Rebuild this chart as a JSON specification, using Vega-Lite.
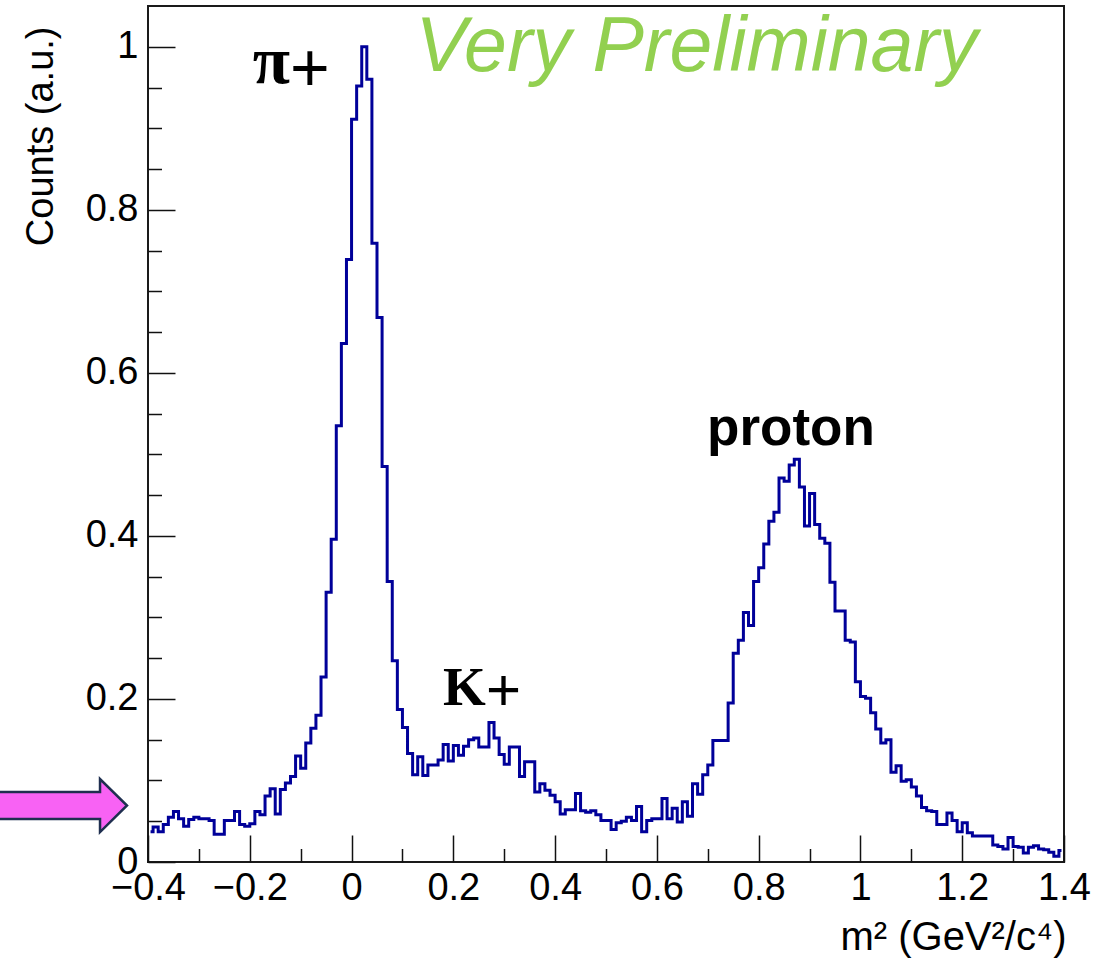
{
  "$schema": "https://vega.github.io/schema/vega-lite/v6.json",
  "width": 916,
  "height": 856,
  "autosize": {"type": "none"},
  "padding": {"left": 148, "top": 6, "right": 50, "bottom": 96},
  "background": "white",
  "config": {"view": {"stroke": "#1a1a1a", "strokeWidth": 2}, "font": "Liberation Sans"},
  "layer": [
    {
      "data": {"values": [
        {"m2": -0.395, "counts": 0.037}, {"m2": -0.385, "counts": 0.043}, {"m2": -0.375, "counts": 0.037}, {"m2": -0.365, "counts": 0.046}, {"m2": -0.355, "counts": 0.055},
        {"m2": -0.345, "counts": 0.062}, {"m2": -0.335, "counts": 0.053}, {"m2": -0.325, "counts": 0.044}, {"m2": -0.315, "counts": 0.052}, {"m2": -0.305, "counts": 0.055},
        {"m2": -0.295, "counts": 0.053}, {"m2": -0.285, "counts": 0.053}, {"m2": -0.275, "counts": 0.051}, {"m2": -0.265, "counts": 0.034}, {"m2": -0.255, "counts": 0.034},
        {"m2": -0.245, "counts": 0.051}, {"m2": -0.235, "counts": 0.051}, {"m2": -0.225, "counts": 0.062}, {"m2": -0.215, "counts": 0.046}, {"m2": -0.205, "counts": 0.044},
        {"m2": -0.195, "counts": 0.047}, {"m2": -0.185, "counts": 0.062}, {"m2": -0.175, "counts": 0.058}, {"m2": -0.165, "counts": 0.081}, {"m2": -0.155, "counts": 0.090},
        {"m2": -0.145, "counts": 0.059}, {"m2": -0.135, "counts": 0.089}, {"m2": -0.125, "counts": 0.097}, {"m2": -0.115, "counts": 0.105}, {"m2": -0.105, "counts": 0.130},
        {"m2": -0.095, "counts": 0.115}, {"m2": -0.085, "counts": 0.146}, {"m2": -0.075, "counts": 0.164}, {"m2": -0.065, "counts": 0.180}, {"m2": -0.055, "counts": 0.227},
        {"m2": -0.045, "counts": 0.331}, {"m2": -0.035, "counts": 0.396}, {"m2": -0.025, "counts": 0.535}, {"m2": -0.015, "counts": 0.636}, {"m2": -0.005, "counts": 0.739},
        {"m2": 0.005, "counts": 0.911}, {"m2": 0.015, "counts": 0.952}, {"m2": 0.025, "counts": 1.000}, {"m2": 0.035, "counts": 0.960}, {"m2": 0.045, "counts": 0.759},
        {"m2": 0.055, "counts": 0.668}, {"m2": 0.065, "counts": 0.485}, {"m2": 0.075, "counts": 0.344}, {"m2": 0.085, "counts": 0.247}, {"m2": 0.095, "counts": 0.187},
        {"m2": 0.105, "counts": 0.165}, {"m2": 0.115, "counts": 0.133}, {"m2": 0.125, "counts": 0.107}, {"m2": 0.135, "counts": 0.129}, {"m2": 0.145, "counts": 0.106},
        {"m2": 0.155, "counts": 0.119}, {"m2": 0.165, "counts": 0.119}, {"m2": 0.175, "counts": 0.125}, {"m2": 0.185, "counts": 0.144}, {"m2": 0.195, "counts": 0.124},
        {"m2": 0.205, "counts": 0.143}, {"m2": 0.215, "counts": 0.131}, {"m2": 0.225, "counts": 0.142}, {"m2": 0.235, "counts": 0.150}, {"m2": 0.245, "counts": 0.152},
        {"m2": 0.255, "counts": 0.141}, {"m2": 0.265, "counts": 0.141}, {"m2": 0.275, "counts": 0.171}, {"m2": 0.285, "counts": 0.152}, {"m2": 0.295, "counts": 0.132},
        {"m2": 0.305, "counts": 0.120}, {"m2": 0.315, "counts": 0.141}, {"m2": 0.325, "counts": 0.141}, {"m2": 0.335, "counts": 0.105}, {"m2": 0.345, "counts": 0.123},
        {"m2": 0.355, "counts": 0.123}, {"m2": 0.365, "counts": 0.086}, {"m2": 0.375, "counts": 0.096}, {"m2": 0.385, "counts": 0.088}, {"m2": 0.395, "counts": 0.082},
        {"m2": 0.405, "counts": 0.074}, {"m2": 0.415, "counts": 0.059}, {"m2": 0.425, "counts": 0.064}, {"m2": 0.435, "counts": 0.064}, {"m2": 0.445, "counts": 0.084},
        {"m2": 0.455, "counts": 0.063}, {"m2": 0.465, "counts": 0.061}, {"m2": 0.475, "counts": 0.063}, {"m2": 0.485, "counts": 0.058}, {"m2": 0.495, "counts": 0.051},
        {"m2": 0.505, "counts": 0.051}, {"m2": 0.515, "counts": 0.040}, {"m2": 0.525, "counts": 0.048}, {"m2": 0.535, "counts": 0.050}, {"m2": 0.545, "counts": 0.055},
        {"m2": 0.555, "counts": 0.051}, {"m2": 0.565, "counts": 0.068}, {"m2": 0.575, "counts": 0.037}, {"m2": 0.585, "counts": 0.051}, {"m2": 0.595, "counts": 0.053},
        {"m2": 0.605, "counts": 0.053}, {"m2": 0.615, "counts": 0.078}, {"m2": 0.625, "counts": 0.053}, {"m2": 0.635, "counts": 0.066}, {"m2": 0.645, "counts": 0.049},
        {"m2": 0.655, "counts": 0.074}, {"m2": 0.665, "counts": 0.056}, {"m2": 0.675, "counts": 0.096}, {"m2": 0.685, "counts": 0.083}, {"m2": 0.695, "counts": 0.107},
        {"m2": 0.705, "counts": 0.119}, {"m2": 0.715, "counts": 0.149}, {"m2": 0.725, "counts": 0.149}, {"m2": 0.735, "counts": 0.149}, {"m2": 0.745, "counts": 0.195},
        {"m2": 0.755, "counts": 0.256}, {"m2": 0.765, "counts": 0.272}, {"m2": 0.775, "counts": 0.306}, {"m2": 0.785, "counts": 0.290}, {"m2": 0.795, "counts": 0.344},
        {"m2": 0.805, "counts": 0.361}, {"m2": 0.815, "counts": 0.390}, {"m2": 0.825, "counts": 0.418}, {"m2": 0.835, "counts": 0.429}, {"m2": 0.845, "counts": 0.471},
        {"m2": 0.855, "counts": 0.467}, {"m2": 0.865, "counts": 0.487}, {"m2": 0.875, "counts": 0.494}, {"m2": 0.885, "counts": 0.460}, {"m2": 0.895, "counts": 0.412},
        {"m2": 0.905, "counts": 0.452}, {"m2": 0.915, "counts": 0.414}, {"m2": 0.925, "counts": 0.397}, {"m2": 0.935, "counts": 0.391}, {"m2": 0.945, "counts": 0.343},
        {"m2": 0.955, "counts": 0.308}, {"m2": 0.965, "counts": 0.308}, {"m2": 0.975, "counts": 0.272}, {"m2": 0.985, "counts": 0.270}, {"m2": 0.995, "counts": 0.221},
        {"m2": 1.005, "counts": 0.203}, {"m2": 1.015, "counts": 0.201}, {"m2": 1.025, "counts": 0.183}, {"m2": 1.035, "counts": 0.163}, {"m2": 1.045, "counts": 0.146},
        {"m2": 1.055, "counts": 0.150}, {"m2": 1.065, "counts": 0.110}, {"m2": 1.075, "counts": 0.118}, {"m2": 1.085, "counts": 0.099}, {"m2": 1.095, "counts": 0.101},
        {"m2": 1.105, "counts": 0.092}, {"m2": 1.115, "counts": 0.081}, {"m2": 1.125, "counts": 0.067}, {"m2": 1.135, "counts": 0.063}, {"m2": 1.145, "counts": 0.062},
        {"m2": 1.155, "counts": 0.046}, {"m2": 1.165, "counts": 0.046}, {"m2": 1.175, "counts": 0.060}, {"m2": 1.185, "counts": 0.051}, {"m2": 1.195, "counts": 0.037},
        {"m2": 1.205, "counts": 0.048}, {"m2": 1.215, "counts": 0.036}, {"m2": 1.225, "counts": 0.032}, {"m2": 1.235, "counts": 0.032}, {"m2": 1.245, "counts": 0.032},
        {"m2": 1.255, "counts": 0.032}, {"m2": 1.265, "counts": 0.021}, {"m2": 1.275, "counts": 0.019}, {"m2": 1.285, "counts": 0.016}, {"m2": 1.295, "counts": 0.030},
        {"m2": 1.305, "counts": 0.019}, {"m2": 1.315, "counts": 0.018}, {"m2": 1.325, "counts": 0.011}, {"m2": 1.335, "counts": 0.018}, {"m2": 1.345, "counts": 0.020},
        {"m2": 1.355, "counts": 0.016}, {"m2": 1.365, "counts": 0.015}, {"m2": 1.375, "counts": 0.012}, {"m2": 1.385, "counts": 0.007}, {"m2": 1.395, "counts": 0.014}
      ]},
      "mark": {"type": "line", "interpolate": "step", "color": "#000099", "strokeWidth": 3},
      "encoding": {
        "x": {
          "field": "m2", "type": "quantitative",
          "scale": {"domain": [-0.4, 1.4], "nice": false, "zero": false},
          "axis": {
            "title": "m² (GeV²/c⁴)",
            "values": [-0.4,-0.35,-0.3,-0.25,-0.2,-0.15,-0.1,-0.05,0,0.05,0.1,0.15,0.2,0.25,0.3,0.35,0.4,0.45,0.5,0.55,0.6,0.65,0.7,0.75,0.8,0.85,0.9,0.95,1,1.05,1.1,1.15,1.2,1.25,1.3,1.35,1.4],
            "format": "~g",
            "labelExpr": "abs(datum.value*5 - round(datum.value*5)) < 0.001 ? datum.label : ''",
            "domain": false,
            "grid": false,
            "tickColor": "#111111",
            "tickWidth": 1.5,
            "tickSize": {"condition": {"test": "abs(datum.value*5 - round(datum.value*5)) < 0.001", "value": -27}, "value": -13.5},
            "labelPadding": 34,
            "labelFont": "Liberation Sans",
            "labelFontSize": 38,
            "labelColor": "#000000",
            "labelOverlap": false,
            "labelFlush": false,
            "labelBound": false,
            "titleFont": "Liberation Sans",
            "titleFontSize": 40,
            "titleFontWeight": "normal",
            "titleColor": "#000000",
            "titleX": 918,
            "titleY": 87,
            "titleAlign": "right",
            "titleBaseline": "alphabetic"
          }
        },
        "y": {
          "field": "counts", "type": "quantitative",
          "scale": {"domain": [0, 1.05], "nice": false, "zero": true},
          "axis": {
            "title": "Counts (a.u.)",
            "values": [0,0.05,0.1,0.15,0.2,0.25,0.3,0.35,0.4,0.45,0.5,0.55,0.6,0.65,0.7,0.75,0.8,0.85,0.9,0.95,1],
            "format": "~g",
            "labelExpr": "abs(datum.value*5 - round(datum.value*5)) < 0.001 ? datum.label : ''",
            "domain": false,
            "grid": false,
            "tickColor": "#111111",
            "tickWidth": 1.5,
            "tickSize": {"condition": {"test": "abs(datum.value*5 - round(datum.value*5)) < 0.001", "value": -27}, "value": -13.5},
            "labelPadding": 37,
            "labelFont": "Liberation Sans",
            "labelFontSize": 38,
            "labelColor": "#000000",
            "labelOverlap": false,
            "labelFlush": false,
            "labelBound": false,
            "titleFont": "Liberation Sans",
            "titleFontSize": 38,
            "titleFontWeight": "normal",
            "titleColor": "#000000",
            "titleAngle": -90,
            "titleX": -96,
            "titleY": 20,
            "titleAlign": "right",
            "titleBaseline": "alphabetic"
          }
        }
      }
    },
    {
      "data": {"values": [{}]},
      "mark": {"type": "text", "text": "π", "font": "Liberation Serif", "fontWeight": "bold", "fontSize": 68, "align": "right", "baseline": "alphabetic", "color": "#000000"},
      "encoding": {"x": {"datum": -0.121}, "y": {"datum": 0.955}}
    },
    {
      "data": {"values": [{}]},
      "mark": {"type": "text", "text": "+", "font": "Liberation Sans", "fontWeight": "normal", "fontSize": 68, "align": "left", "baseline": "alphabetic", "dy": 8, "color": "#000000"},
      "encoding": {"x": {"datum": -0.121}, "y": {"datum": 0.955}}
    },
    {
      "data": {"values": [{}]},
      "mark": {"type": "text", "text": "K", "font": "Liberation Serif", "fontWeight": "bold", "fontSize": 55, "align": "right", "baseline": "alphabetic", "color": "#000000"},
      "encoding": {"x": {"datum": 0.264}, "y": {"datum": 0.1926}}
    },
    {
      "data": {"values": [{}]},
      "mark": {"type": "text", "text": "+", "font": "Liberation Sans", "fontWeight": "normal", "fontSize": 60, "align": "left", "baseline": "alphabetic", "dy": 5, "color": "#000000"},
      "encoding": {"x": {"datum": 0.264}, "y": {"datum": 0.1926}}
    },
    {
      "data": {"values": [{}]},
      "mark": {"type": "text", "text": "proton", "font": "Liberation Sans", "fontWeight": "bold", "fontSize": 53, "align": "center", "baseline": "alphabetic", "color": "#000000"},
      "encoding": {"x": {"datum": 0.8635}, "y": {"datum": 0.5115}}
    },
    {
      "data": {"values": [{}]},
      "mark": {"type": "text", "text": "Very Preliminary", "font": "Liberation Sans", "fontStyle": "italic", "fontSize": 77, "align": "center", "baseline": "alphabetic", "color": "#92D050"},
      "encoding": {"x": {"datum": 0.678}, "y": {"datum": 0.97}}
    },
    {
      "data": {"values": [{}]},
      "mark": {"type": "point", "shape": "M-1,-0.208 L0.585,-0.208 L0.585,-0.408 L1,0 L0.585,0.408 L0.585,0.208 L-1,0.208 Z", "size": 16900, "filled": true, "fill": "#F862F4", "stroke": "#1F2F50", "strokeWidth": 2.5, "opacity": 1},
      "encoding": {"x": {"datum": -0.569}, "y": {"datum": 0.0693}}
    }
  ]
}
